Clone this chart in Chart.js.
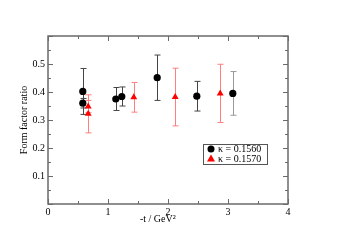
<!DOCTYPE html>
<html><head><meta charset="utf-8">
<script src="https://cdn.jsdelivr.net/npm/chart.js@4.4.0/dist/chart.umd.min.js"></script>
<style>html,body{margin:0;padding:0;background:#fff}#wrap{width:339px;height:240px}</style>
</head><body><div id="wrap"><canvas id="c" width="339" height="240"></canvas></div>
<script>
// ---- data ----
const k1560_t   = [0.58, 0.58, 1.13, 1.23, 1.82, 2.48, 3.08];
const k1560_v   = [0.402, 0.360, 0.375, 0.384, 0.451, 0.385, 0.395];
const k1560_err = [0.082, 0.017, 0.041, 0.034, 0.081, 0.053, 0.078];
const k1570_t   = [0.67, 0.67, 1.43, 2.12, 2.87];
const k1570_v   = [0.348, 0.322, 0.381, 0.382, 0.395];
const k1570_err = [0.022, 0.068, 0.053, 0.103, 0.104];
const xTicks = [0, 1, 2, 3, 4];
const yTickLabels = ['0.1', '0.2', '0.3', '0.4', '0.5'];
const seriesLabels = ['\u03BA = 0.1560', '\u03BA = 0.1570'];
const xTitle = '-t / GeV\u00B2';
const yTitle = 'Form factor ratio';

const FONT = 'Liberation Serif';
const pts = (t, v) => t.map((x, i) => ({x: x, y: v[i]}));

const errPlugin = {
  id: 'err',
  beforeDatasetsDraw(chart) {
    const ctx = chart.ctx, xs = chart.scales.x, ys = chart.scales.y;
    chart.data.datasets.forEach((ds) => {
      ds.data.forEach((p, i) => {
        const e = ds.errors[i];
        const px = Math.round(xs.getPixelForValue(p.x)) + 0.5;
        const y1 = ys.getPixelForValue(p.y + e), y2 = ys.getPixelForValue(p.y - e);
        ctx.save();
        ctx.strokeStyle = ds.errColors ? ds.errColors[i] : ds.errColor;
        ctx.lineWidth = 1;
        ctx.beginPath();
        ctx.moveTo(px, y1); ctx.lineTo(px, y2);
        ctx.moveTo(px - 3, y1); ctx.lineTo(px + 3, y1);
        ctx.moveTo(px - 3, y2); ctx.lineTo(px + 3, y2);
        ctx.stroke();
        ctx.restore();
      });
    });
  }
};

const framePlugin = {
  id: 'frame',
  afterDraw(chart) {
    const ctx = chart.ctx, a = chart.chartArea, xs = chart.scales.x, ys = chart.scales.y;
    ctx.save();
    ctx.strokeStyle = '#6a6a6a';
    ctx.lineWidth = 1.5;
    ctx.strokeRect(a.left, a.top, a.right - a.left, a.bottom - a.top);
    ctx.lineWidth = 1;
    ctx.beginPath();
    for (let v = 0; v <= 4.001; v += 0.5) {
      const px = Math.round(xs.getPixelForValue(v)) + 0.5;
      const L = (Math.abs(v - Math.round(v)) < 1e-6) ? 5 : 3;
      ctx.moveTo(px, a.bottom); ctx.lineTo(px, a.bottom - L);
      ctx.moveTo(px, a.top); ctx.lineTo(px, a.top + L);
    }
    for (let k = 0; k <= 12; k++) {
      const v = k * 0.05;
      const py = Math.round(ys.getPixelForValue(v)) + 0.5;
      const L = (k % 2 === 0) ? 5 : 3;
      ctx.moveTo(a.left, py); ctx.lineTo(a.left + L, py);
      ctx.moveTo(a.right, py); ctx.lineTo(a.right - L, py);
    }
    ctx.stroke();
    // x axis title
    ctx.fillStyle = '#000';
    ctx.font = '10px "' + FONT + '"';
    ctx.textAlign = 'center';
    ctx.textBaseline = 'middle';
    ctx.fillText(xTitle, xs.getPixelForValue(1.83), a.bottom + 15.5);
    // legend
    const lx = a.right - 85, ly = a.top + 108, lw = 64, lh = 20;
    ctx.fillStyle = '#fff';
    ctx.fillRect(lx, ly, lw, lh);
    ctx.strokeStyle = '#555';
    ctx.lineWidth = 1;
    ctx.strokeRect(lx + 0.5, ly + 0.5, lw, lh);
    ctx.textBaseline = 'middle';
    ctx.textAlign = 'left';
    chart.data.datasets.forEach((ds, i) => {
      const cy = ly + 5 + i * 9.5;
      ctx.fillStyle = ds.backgroundColor;
      ctx.beginPath();
      if (ds.pointStyle === 'triangle') {
        ctx.moveTo(lx + 8, cy - 4); ctx.lineTo(lx + 12, cy + 3); ctx.lineTo(lx + 4, cy + 3); ctx.closePath();
      } else {
        ctx.arc(lx + 8, cy, 3.5, 0, Math.PI * 2);
      }
      ctx.fill();
      ctx.fillStyle = '#000';
      ctx.fillText(ds.label, lx + 15, cy + 0.5);
    });
    ctx.restore();
  }
};

new Chart(document.getElementById('c'), {
  type: 'scatter',
  data: {
    datasets: [
      {label: seriesLabels[0], data: pts(k1560_t, k1560_v), errors: k1560_err,
       errColor: '#444', errColors: ['#444','#444','#444','#444','#444','#444','#999'],
       backgroundColor: '#000', borderColor: '#000', pointStyle: 'circle', pointRadius: 3.6, borderWidth: 0},
      {label: seriesLabels[1], data: pts(k1570_t, k1570_v), errors: k1570_err,
       errColor: '#ff7f7f',
       backgroundColor: '#ff0000', borderColor: '#ff0000', pointStyle: 'triangle', pointRadius: 4, borderWidth: 0}
    ]
  },
  options: {
    responsive: false, animation: false, devicePixelRatio: 1,
    layout: {padding: {top: 36, right: 51, left: 0, bottom: 0}},
    plugins: {legend: {display: false}, tooltip: {enabled: false}},
    scales: {
      x: {
        type: 'linear', min: 0, max: 4,
        afterFit: (s) => { s.height = 36; },
        afterBuildTicks: (s) => { s.ticks = xTicks.map(v => ({value: v})); },
        grid: {display: false, drawTicks: false},
        border: {display: false},
        ticks: {padding: 2, color: '#000', font: {family: FONT, size: 10}, maxRotation: 0, autoSkip: false,
                callback: (v) => String(v)},
        title: {display: false}
      },
      y: {
        type: 'linear', min: 0, max: 0.6,
        afterFit: (s) => { s.width = 48; },
        afterBuildTicks: (s) => { s.ticks = yTickLabels.map(l => ({value: parseFloat(l)})); },
        grid: {display: false, drawTicks: false},
        border: {display: false},
        ticks: {padding: 3, color: '#000', font: {family: FONT, size: 10}, autoSkip: false,
                callback: (v) => { const s = v.toFixed(1); return yTickLabels.includes(s) ? s : ''; }},
        title: {display: true, text: yTitle, color: '#000', font: {family: FONT, size: 10}, padding: {top: 18, bottom: 0}}
      }
    }
  },
  plugins: [errPlugin, framePlugin]
});
</script></body></html>
